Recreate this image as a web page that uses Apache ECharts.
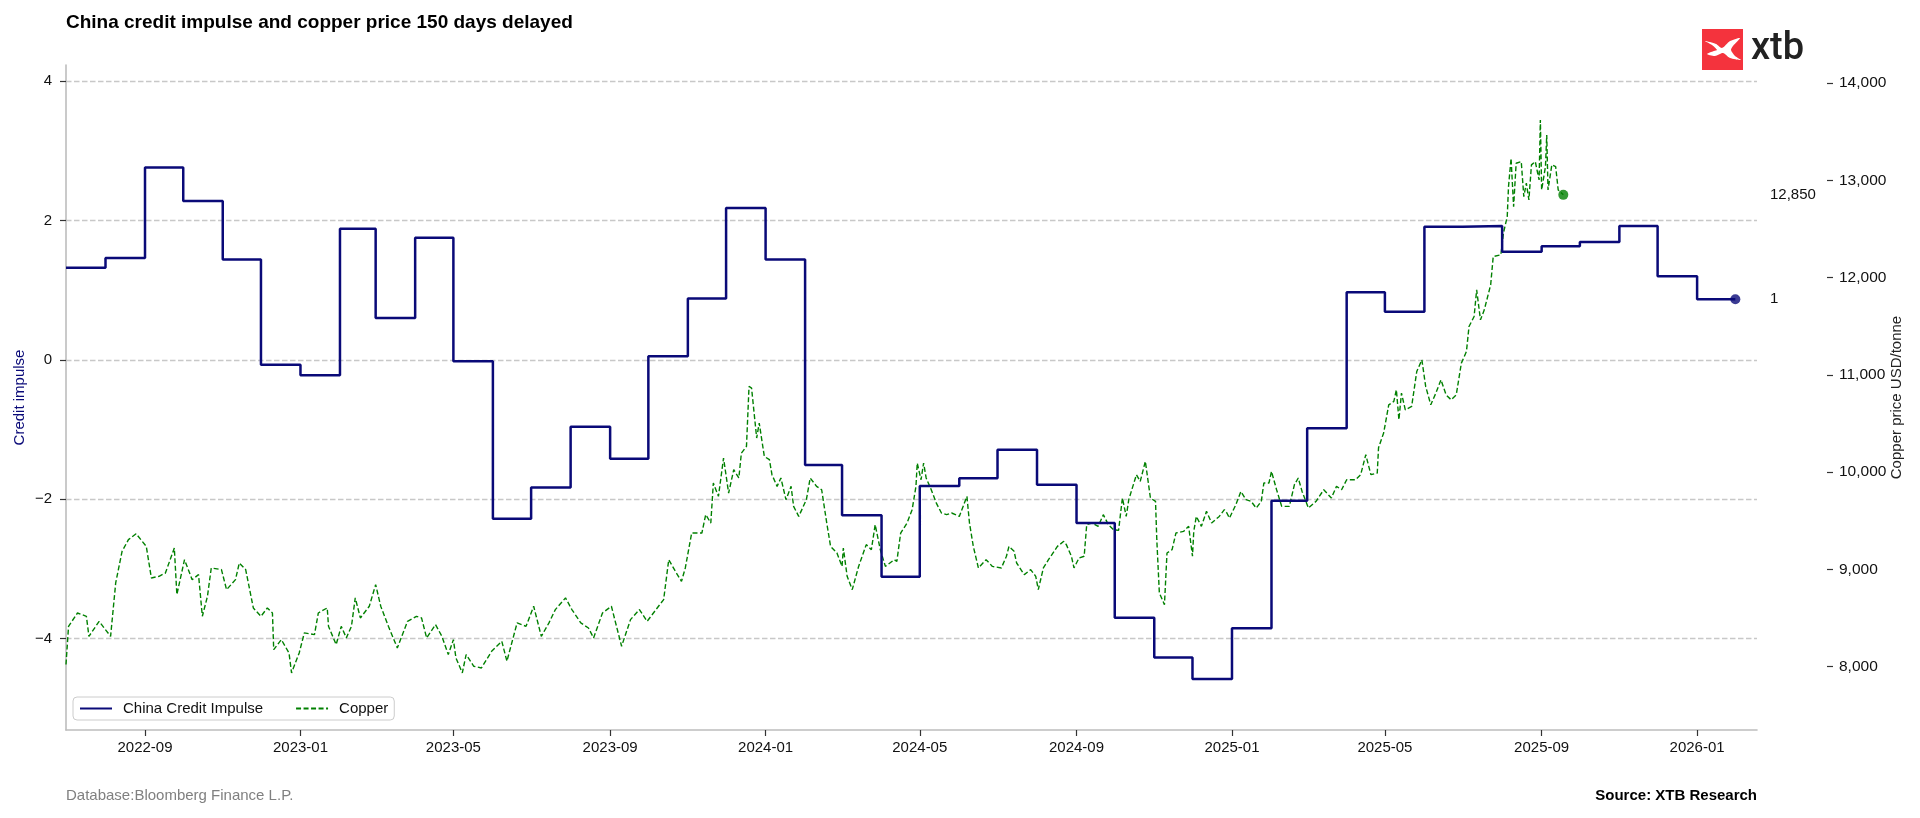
<!DOCTYPE html>
<html>
<head>
<meta charset="utf-8">
<script src="https://cdn.jsdelivr.net/npm/echarts@6/dist/echarts.min.js"></script>
<style>html,body{margin:0;padding:0;background:#fff;}#chart{width:1920px;height:818px;}</style>
</head>
<body>
<div id="chart"></div>
<script>
const TITLE = 'China credit impulse and copper price 150 days delayed';
const SOURCE_LEFT = 'Database:Bloomberg Finance L.P.';
const SOURCE_RIGHT = 'Source: XTB Research';

const creditMonths = ['2022-07','2022-08','2022-09','2022-10','2022-11','2022-12',
  '2023-01','2023-02','2023-03','2023-04','2023-05','2023-06','2023-07','2023-08','2023-09','2023-10','2023-11','2023-12',
  '2024-01','2024-02','2024-03','2024-04','2024-05','2024-06','2024-07','2024-08','2024-09','2024-10','2024-11','2024-12',
  '2025-01','2025-02','2025-03','2025-04','2025-05','2025-06','2025-07','2025-08','2025-09','2025-10','2025-11','2025-12',
  '2026-01'];
const creditValues = [1.32,1.46,2.76,2.28,1.44,-0.07,
  -0.22,1.88,0.60,1.75,-0.02,-2.28,-1.83,-0.96,-1.42,0.05,0.88,2.18,
  1.44,-1.51,-2.23,-3.11,-1.81,-1.70,-1.29,-1.79,-2.34,-3.70,-4.27,-4.58,
  -3.85,-2.02,-0.98,0.97,0.69,1.91,1.92,1.55,1.63,1.69,1.92,1.20,
  0.87];
const creditEndDate = '2026-01-31';

const copperDates = ['2022-07-01','2022-07-03','2022-07-10','2022-07-17','2022-07-19','2022-07-27','2022-08-05','2022-08-09','2022-08-14','2022-08-19','2022-08-25','2022-09-02','2022-09-06','2022-09-12','2022-09-17','2022-09-24','2022-09-26','2022-10-02','2022-10-08','2022-10-13','2022-10-16','2022-10-20','2022-10-23','2022-10-31','2022-11-04','2022-11-11','2022-11-14','2022-11-19','2022-11-25','2022-12-01','2022-12-06','2022-12-10','2022-12-11','2022-12-17','2022-12-23','2022-12-25','2022-12-31',
'2023-01-04','2023-01-12','2023-01-15','2023-01-22','2023-01-23','2023-01-29','2023-02-02','2023-02-06','2023-02-10','2023-02-13','2023-02-17','2023-02-24','2023-03-01','2023-03-05','2023-03-11','2023-03-18','2023-03-26','2023-04-02','2023-04-06','2023-04-10','2023-04-17','2023-04-22','2023-04-27','2023-05-01','2023-05-03','2023-05-08','2023-05-11','2023-05-17','2023-05-23','2023-05-31','2023-06-08','2023-06-12','2023-06-20','2023-06-27','2023-07-03','2023-07-09','2023-07-15','2023-07-20','2023-07-28','2023-08-02','2023-08-09','2023-08-15','2023-08-19','2023-08-26','2023-09-02','2023-09-06','2023-09-10','2023-09-17','2023-09-24','2023-09-30','2023-10-07','2023-10-13','2023-10-17','2023-10-23','2023-10-27','2023-10-30','2023-11-04','2023-11-12','2023-11-15','2023-11-19','2023-11-21','2023-11-25','2023-11-29','2023-12-03','2023-12-07','2023-12-11','2023-12-13','2023-12-17','2023-12-19','2023-12-21','2023-12-25','2023-12-27','2023-12-31',
'2024-01-04','2024-01-06','2024-01-10','2024-01-13','2024-01-17','2024-01-21','2024-01-23','2024-01-27','2024-02-02','2024-02-05','2024-02-10','2024-02-14','2024-02-18','2024-02-21','2024-02-26','2024-03-01','2024-03-02','2024-03-05','2024-03-09','2024-03-14','2024-03-20','2024-03-24','2024-03-27','2024-03-31','2024-04-04','2024-04-11','2024-04-13','2024-04-16','2024-04-21','2024-04-25','2024-04-28','2024-04-29','2024-05-02','2024-05-04','2024-05-06','2024-05-10','2024-05-14','2024-05-18','2024-05-22','2024-05-26','2024-06-01','2024-06-05','2024-06-07','2024-06-09','2024-06-12','2024-06-16','2024-06-22','2024-06-27','2024-07-04','2024-07-08','2024-07-10','2024-07-14','2024-07-16','2024-07-22','2024-07-27','2024-07-31','2024-08-02','2024-08-06','2024-08-10','2024-08-17','2024-08-22','2024-08-24','2024-08-28','2024-08-30','2024-09-03','2024-09-07','2024-09-09','2024-09-13','2024-09-18','2024-09-22','2024-09-26','2024-09-30','2024-10-04','2024-10-07','2024-10-10','2024-10-12','2024-10-14','2024-10-18','2024-10-21','2024-10-25','2024-10-29','2024-11-02','2024-11-03','2024-11-05','2024-11-09','2024-11-11','2024-11-15','2024-11-18','2024-11-24','2024-11-28','2024-12-01','2024-12-02','2024-12-04','2024-12-08','2024-12-12','2024-12-16','2024-12-22','2024-12-26','2024-12-28','2024-12-30',
'2025-01-04','2025-01-08','2025-01-12','2025-01-16','2025-01-20','2025-01-24','2025-01-26','2025-01-30','2025-02-01','2025-02-05','2025-02-09','2025-02-15','2025-02-19','2025-02-22','2025-02-25','2025-03-02','2025-03-08','2025-03-14','2025-03-20','2025-03-24','2025-03-28','2025-04-01','2025-04-08','2025-04-12','2025-04-16','2025-04-20','2025-04-25','2025-04-26','2025-04-30','2025-05-04','2025-05-08','2025-05-10','2025-05-12','2025-05-14','2025-05-17','2025-05-22','2025-05-26','2025-05-30','2025-06-02','2025-06-06','2025-06-10','2025-06-14','2025-06-18','2025-06-22','2025-06-26','2025-06-30','2025-07-04','2025-07-06','2025-07-10','2025-07-12','2025-07-15','2025-07-18','2025-07-23','2025-07-25','2025-07-31','2025-08-02','2025-08-05','2025-08-06','2025-08-08','2025-08-10','2025-08-12','2025-08-16','2025-08-18','2025-08-20','2025-08-22','2025-08-24','2025-08-27','2025-08-30','2025-08-31','2025-09-01','2025-09-04','2025-09-05','2025-09-06','2025-09-09','2025-09-12','2025-09-14','2025-09-18'];
const copperValues = [8021,8414,8551,8517,8311,8465,8311,8860,9185,9305,9366,9236,8911,8928,8962,9219,8740,9099,8894,8945,8517,8722,9014,8997,8791,8894,9065,8997,8603,8517,8603,8551,8174,8277,8140,7935,8140,
8346,8329,8551,8603,8414,8226,8414,8295,8414,8706,8500,8620,8843,8620,8414,8192,8465,8517,8500,8295,8431,8311,8123,8277,8089,7935,8123,8003,7986,8157,8260,8055,8449,8414,8620,8311,8449,8586,8706,8586,8449,8397,8295,8551,8620,8414,8209,8483,8586,8465,8586,8689,9099,8962,8876,9014,9373,9373,9562,9476,9887,9750,10144,9784,10024,9939,10195,10264,10880,10863,10350,10504,10161,
10127,9973,9853,9939,9716,9853,9647,9544,9716,9939,9853,9818,9476,9236,9168,9030,9219,8928,8791,9030,9254,9202,9459,9202,9030,9099,9082,9373,9476,9613,9853,10093,9921,10093,9939,9818,9681,9579,9562,9579,9544,9681,9750,9476,9236,9014,9099,9030,9014,9134,9236,9185,9065,8945,8997,8928,8791,9014,9099,9236,9288,9254,9134,9014,9117,9134,9459,9476,9442,9562,9459,9408,9400,9733,9544,9716,9801,9973,9904,10110,9733,9699,9305,8757,8637,9168,9202,9373,9390,9442,9134,9390,9544,9442,9596,9476,9544,9613,9579,9527,
9664,9801,9716,9699,9630,9699,9887,9887,10007,9818,9647,9647,9870,9939,9801,9630,9699,9818,9733,9853,9818,9921,9921,9973,10178,9973,9990,10250,10401,10690,10726,10846,10538,10812,10640,10675,11034,11154,10880,10692,10812,10949,10794,10743,10794,11120,11240,11496,11599,11873,11565,11668,11925,12216,12233,12456,12627,12935,13226,12729,13175,13192,12832,12970,12798,13158,13192,13003,13620,12901,13140,13466,12901,13158,13140,12901,12850];

const xTickLabels = ['2022-09','2023-01','2023-05','2023-09','2024-01','2024-05','2024-09','2025-01','2025-05','2025-09','2026-01'];
const leftTicks = [-4,-2,0,2,4];
const rightTicks = [8000,9000,10000,11000,12000,13000,14000];
const xRange = ['2022-07-01','2026-02-17'];
const leftRange = [-5.31, 4.23];
const rightRange = [7348, 14185];

const FONT = "'Liberation Sans', Arial, Helvetica, sans-serif";
const NAVY = '#0a0a78';
const GREEN = '#008000';
const ts = s => echarts.number.parseDate(s).getTime();
const fmtK = v => Math.round(v).toLocaleString('en-US');
const fmtMinus = v => String(v).replace('-', '\u2212');
const fmtMonth = v => { const d = new Date(v); return d.getFullYear() + '-' + String(d.getMonth() + 1).padStart(2, '0'); };

const creditData = creditMonths.map((m, i) => [ts(m + '-01'), creditValues[i]]);
creditData.push([ts(creditEndDate), creditValues[creditValues.length - 1]]);
const copperData = copperDates.map((d, i) => [ts(d), copperValues[i]]);
const lastCredit = creditData[creditData.length - 1];
const lastCopper = copperData[copperData.length - 1];
const xTickValues = xTickLabels.map(s => ts(s + '-01'));

const chart = echarts.init(document.getElementById('chart'), null, {renderer: 'canvas'});

const baseGraphic = [
  {id: 'srcL', type: 'text', left: 66, top: 788, style: {text: SOURCE_LEFT, fontSize: 15, fill: '#808080', fontFamily: FONT}},
  {id: 'srcR', type: 'text', right: 163, top: 788, style: {text: SOURCE_RIGHT, fontSize: 15, fontWeight: 'bold', fill: '#000', fontFamily: FONT}},
  {id: 'logo', type: 'group', left: 1702, top: 29, children: [
    {type: 'rect', shape: {x: 0, y: 0, width: 41, height: 41}, style: {fill: '#f4333d'}},
    {type: 'polygon', shape: {smooth: 0.25, points: [[3,12],[14,15],[20,19],[28,12],[38,9],[31,17],[29,21],[33,27],[39,31],[28,29],[21,24],[13,27],[5,25],[12,22],[15,21],[10,16]]}, style: {fill: '#ffffff'}},
    {type: 'text', x: 49, y: 20, style: {text: 'xtb', fontSize: 38, fontFamily: 'Roboto, sans-serif', fontWeight: 500, fill: '#222', verticalAlign: 'middle'}}
  ]}
];

const option = {
  animation: false,
  backgroundColor: '#ffffff',
  title: {text: TITLE, left: 61, top: 8, textStyle: {fontFamily: FONT, fontSize: 19, fontWeight: 'bold', color: '#000'}},
  legend: {
    data: ['China Credit Impulse', 'Copper'], left: 73, top: 697, orient: 'horizontal',
    itemWidth: 32, itemHeight: 14, itemGap: 32, padding: [4, 6, 4, 6],
    borderColor: '#cccccc', borderWidth: 1, borderRadius: 4, backgroundColor: '#ffffff',
    textStyle: {fontSize: 15, color: '#111', fontFamily: FONT, padding: [0, 0, 0, 6]},
    itemStyle: {opacity: 0}, selectedMode: false
  },
  grid: {left: 66, right: 163, top: 65, bottom: 88, containLabel: false},
  xAxis: {
    type: 'value', min: ts(xRange[0]), max: ts(xRange[1]),
    axisLine: {show: true, onZero: false, lineStyle: {color: '#bdbdbd', width: 1.6}},
    axisTick: {show: true, length: 6, customValues: xTickValues, lineStyle: {color: '#333', width: 1.2}},
    axisLabel: {customValues: xTickValues, formatter: v => fmtMonth(v), fontSize: 15, color: '#111', margin: 10, fontFamily: FONT},
    splitLine: {show: false}
  },
  yAxis: [
    {
      type: 'value', position: 'left', min: leftRange[0], max: leftRange[1],
      name: 'Credit impulse', nameLocation: 'middle', nameGap: 39, nameRotate: 90, nameMoveOverlap: false,
      nameTextStyle: {color: NAVY, fontSize: 15, fontFamily: FONT},
      axisLine: {show: true, onZero: false, lineStyle: {color: '#bdbdbd', width: 1.6}},
      axisTick: {show: true, length: 6, customValues: leftTicks, lineStyle: {color: '#333', width: 1.2}},
      axisLabel: {customValues: leftTicks, formatter: v => fmtMinus(v), fontSize: 15, color: '#111', margin: 14, fontFamily: FONT},
      splitLine: {show: true, lineStyle: {color: '#c8c8c8', type: [5.5, 2.5], width: 1.3}}
    },
    {
      type: 'value', position: 'right', offset: 70, min: rightRange[0], max: rightRange[1],
      name: 'Copper price USD/tonne', nameLocation: 'middle', nameGap: 62, nameRotate: 90, nameMoveOverlap: false,
      nameTextStyle: {color: '#222', fontSize: 15, fontFamily: FONT},
      axisLine: {show: false, onZero: false},
      axisTick: {show: true, length: 6, customValues: rightTicks, lineStyle: {color: '#333', width: 1.2}},
      axisLabel: {customValues: rightTicks, formatter: v => fmtK(v), fontSize: 15.5, color: '#111', margin: 12, fontFamily: FONT},
      splitLine: {show: false}
    }
  ],
  series: [
    {name: 'China Credit Impulse', type: 'line', yAxisIndex: 0, data: creditData, step: 'end', symbol: 'none',
     lineStyle: {color: NAVY, width: 2.5}, itemStyle: {color: NAVY}, z: 3},
    {name: 'Copper', type: 'line', yAxisIndex: 1, data: copperData, symbol: 'none',
     lineStyle: {color: GREEN, width: 1.4, type: [5, 2.5]}, itemStyle: {color: GREEN}, z: 2},
    {name: 'creditEnd', type: 'scatter', yAxisIndex: 0, data: [lastCredit], symbolSize: 10, itemStyle: {color: NAVY}, z: 4, silent: true},
    {name: 'copperEnd', type: 'scatter', yAxisIndex: 1, data: [lastCopper], symbolSize: 10, itemStyle: {color: GREEN}, z: 4, silent: true}
  ],
  graphic: baseGraphic
};

chart.setOption(option);

const xEdge = chart.convertToPixel({xAxisIndex: 0}, ts(xRange[1]));
const yCopper = chart.convertToPixel({yAxisIndex: 1}, lastCopper[1]);
const yCredit = chart.convertToPixel({yAxisIndex: 0}, lastCredit[1]);
chart.setOption({graphic: baseGraphic.concat([
  {id: 'lblCopper', type: 'text', x: xEdge + 13, y: yCopper, style: {text: fmtK(lastCopper[1]), fontSize: 15, fill: '#111', fontFamily: FONT, verticalAlign: 'middle'}},
  {id: 'lblCredit', type: 'text', x: xEdge + 13, y: yCredit, style: {text: String(Math.round(lastCredit[1])), fontSize: 15, fill: '#111', fontFamily: FONT, verticalAlign: 'middle'}}
])});
</script>
</body>
</html>
